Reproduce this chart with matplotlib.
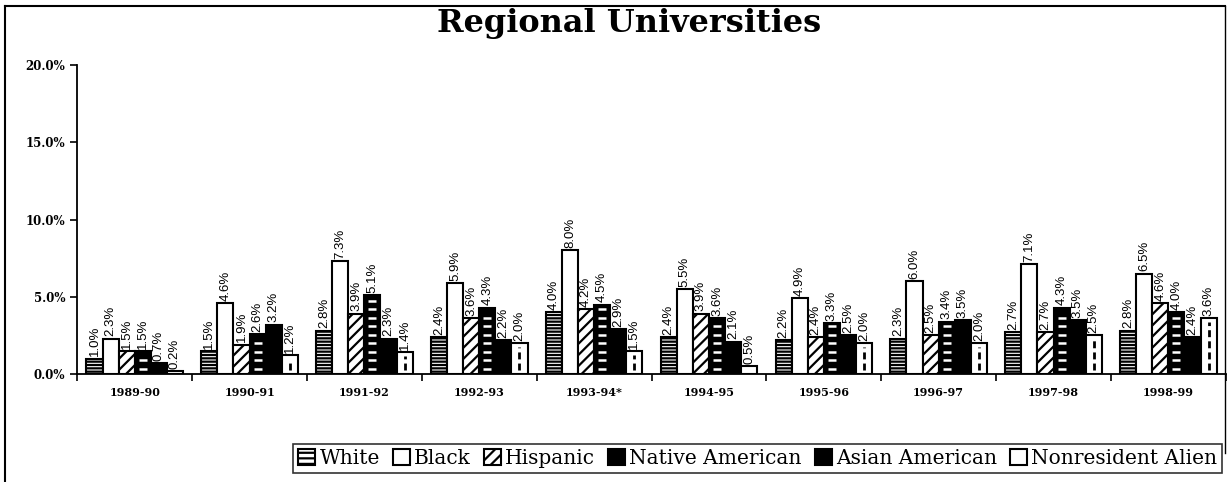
import matplotlib
matplotlib.use("Agg")
import matplotlib.pyplot as plt
import numpy as np
from matplotlib.patches import Patch
from matplotlib.lines import Line2D

years = ["1989-90", "1990-91", "1991-92", "1992-93", "1993-94*",
         "1994-95", "1995-96", "1996-97", "1997-98", "1998-99"]
series_names = ["White", "Black", "Hispanic", "Native American",
                "Asian American", "Nonresident Alien"]
white = [1.0, 1.5, 2.8, 2.4, 4.0, 2.4, 2.2, 2.3, 2.7, 2.8]
black = [2.3, 4.6, 7.3, 5.9, 8.0, 5.5, 4.9, 6.0, 7.1, 6.5]
hispanic = [1.5, 1.9, 3.9, 3.6, 4.2, 3.9, 2.4, 2.5, 2.7, 4.6]
native = [1.5, 2.6, 5.1, 4.3, 4.5, 3.6, 3.3, 3.4, 4.3, 4.0]
asian = [0.7, 3.2, 2.3, 2.2, 2.9, 2.1, 2.5, 3.5, 3.5, 2.4]
nonres = [0.2, 1.2, 1.4, 2.0, 1.5, 0.5, 2.0, 2.0, 2.5, 3.6]
yticks = [0, 5, 10, 15, 20]

data = [white, black, hispanic, native, asian, nonres]
styles = [
    dict(facecolor="white", hatch="-----"),
    dict(facecolor="white", hatch=None),
    dict(facecolor="white", hatch="///"),
    dict(facecolor="black", hatch=None),
    dict(facecolor="black", hatch=None),
    dict(facecolor="white", hatch=None),
]

plt.rcParams["hatch.linewidth"] = 1.6
fig = plt.figure(figsize=(12.27, 4.82), dpi=100)
ax = fig.add_axes([0.063, 0.224, 0.936, 0.641])

x = np.arange(len(years))
w = 0.14
for j, (vals, st) in enumerate(zip(data, styles)):
    xs = x + (j - 2.5) * w
    ax.bar(xs, vals, width=w, edgecolor="black", linewidth=1.5, zorder=2, **st)
    if j == 3:
        for xi, v in zip(xs, vals):
            ys = np.arange(0.35, v - 0.15, 0.55)
            ax.plot([xi] * len(ys), ys, linestyle="none", marker="_",
                    markersize=6, markeredgewidth=1.8, color="white", zorder=3)
    if j == 5:
        for xi, v in zip(xs, vals):
            if v > 0.4:
                ax.vlines(xi, 0.25, v - 0.25, colors="black", linestyles=(0, (2.5, 1.5)),
                          linewidth=2, zorder=3)
    for xi, v in zip(xs, vals):
        ax.text(xi, v + 0.15, f"{v:.1f}%", rotation=90, ha="center", va="bottom",
                fontsize=9.5, family="Liberation Sans", zorder=4)

ax.set_xlim(-0.5, len(years) - 0.5)
ax.set_ylim(0, 20)
ax.set_yticks(yticks)
ax.set_yticklabels([f"{t:.1f}%" for t in yticks], family="DejaVu Serif",
                   fontweight="bold", fontsize=8.5)
ax.set_xticks(np.arange(-0.5, len(years), 1.0))
ax.set_xticklabels([])
ax.set_xticks(x, minor=True)
ax.set_xticklabels(years, minor=True, family="DejaVu Serif", fontweight="bold",
                   fontsize=8)
ax.tick_params(axis="x", which="minor", length=0, pad=9)
ax.tick_params(axis="both", which="major", direction="out", length=5, width=1.2)
ax.spines["top"].set_visible(False)
ax.spines["right"].set_visible(False)
ax.spines["left"].set_linewidth(1.3)
ax.spines["bottom"].set_linewidth(1.3)

fig.text(0.513, 0.952, "Regional Universities", ha="center", va="center",
         family="DejaVu Serif", fontweight="bold", fontsize=23)

handles = []
for name, st in zip(series_names, styles):
    handles.append(Patch(facecolor=st["facecolor"], edgecolor="black",
                         hatch=("---" if st["hatch"] == "-----" else st["hatch"]),
                         linewidth=1.5, label=name))
leg = fig.legend(handles=handles, loc="lower right", bbox_to_anchor=(0.996, 0.019),
                 ncol=6, frameon=True, fancybox=False, edgecolor="black",
                 handlelength=0.85, handleheight=0.85, handletextpad=0.2,
                 columnspacing=0.65, borderpad=0.25, borderaxespad=0,
                 prop=dict(family="DejaVu Serif", size=14.5))
leg.get_frame().set_linewidth(1.2)

# figure border
fig.add_artist(Line2D([0.004, 0.004], [0.0, 0.988], transform=fig.transFigure,
                      color="black", linewidth=1.5))
fig.add_artist(Line2D([0.004, 0.998], [0.988, 0.988], transform=fig.transFigure,
                      color="black", linewidth=1.5))
fig.add_artist(Line2D([0.998, 0.998], [0.06, 0.988], transform=fig.transFigure,
                      color="black", linewidth=1.0))

fig.savefig("out.png", dpi=100)
